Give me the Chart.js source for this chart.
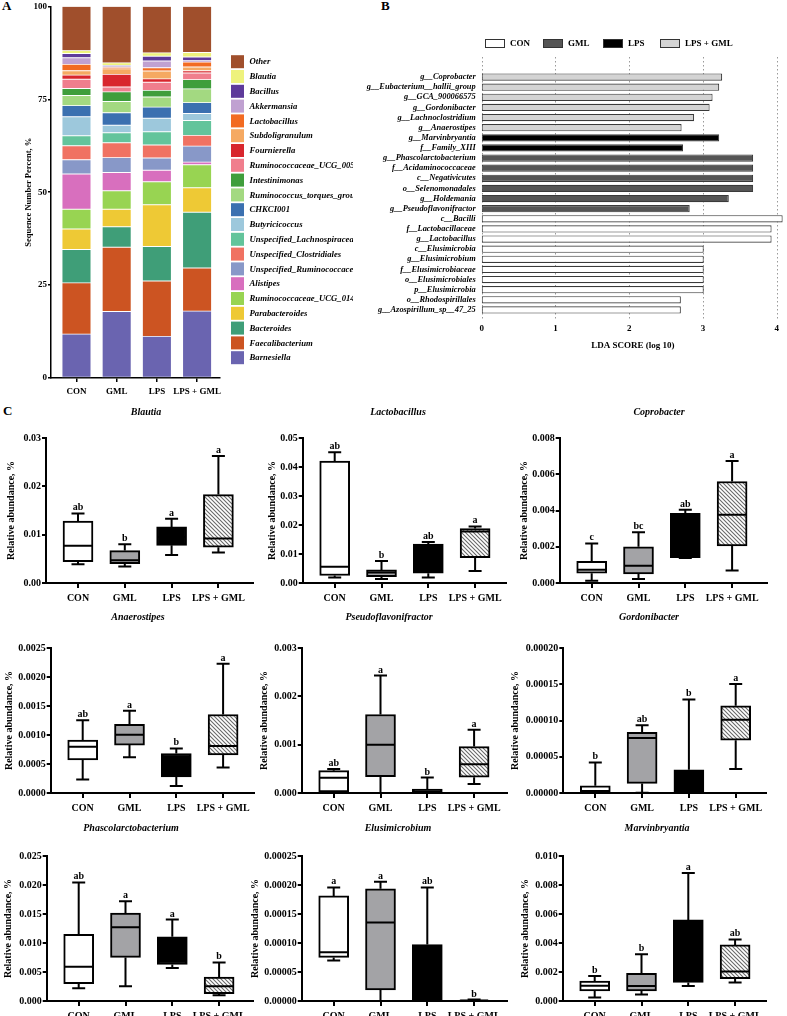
<!DOCTYPE html>
<html><head><meta charset="utf-8">
<script src="https://cdn.jsdelivr.net/npm/chart.js@4.4.1/dist/chart.umd.min.js"></script>
<style>
html,body{margin:0;padding:0;overflow:hidden;background:#fff;width:787px;height:1016px;position:relative;}
.box{position:absolute;}
.lbl{position:absolute;font:bold 13px "Liberation Serif";color:#000;}
</style></head><body>
<div class="lbl" style="left:2px;top:-2px">A</div>
<div class="lbl" style="left:381px;top:-2px">B</div>
<div class="lbl" style="left:3px;top:403px">C</div>
<div class="box" id="wa" style="left:0;top:0;width:390px;height:400px"><canvas id="ca"></canvas></div>
<div class="box" id="wb" style="left:360px;top:0;width:427px;height:360px"><canvas id="cb"></canvas></div>
<div id="cwrap"></div>
<script>
// ---------- Panel A data ----------
const groups = ['CON', 'GML', 'LPS', 'LPS + GML'];
const genera = ['Barnesiella','Faecalibacterium','Bacteroides','Parabacteroides','Ruminococcaceae_UCG_014','Alistipes','Unspecified_Ruminococcaceae','Unspecified_Clostridiales','Unspecified_Lachnospiraceae','Butyricicoccus','CHKCI001','Ruminococcus_torques_group','Intestinimonas','Ruminococcaceae_UCG_005','Fournierella','Subdoligranulum','Lactobacillus','Akkermansia','Bacillus','Blautia','Other'];
const genusColors = ['#6a64b0','#cc5422','#3f9e78','#eec935','#98d452','#d86fbe','#8898c8','#f07262','#63c49b','#9dc8dc','#3b70b0','#a3d981','#3f9e3b','#f07e8d','#d8262d','#f5a962','#f26b22','#c0a1d1','#5e3a9a','#eef27d','#a04f2c'];
const conPercent    = [11.8,13.8,9.0,5.5,5.3,9.5,3.85,3.75,2.7,5.1,3.0,2.7,1.9,2.5,1.1,1.2,1.7,1.8,1.1,0.8,11.9];
const gmlPercent    = [17.9,17.3,5.5,4.7,5.0,4.9,4.0,4.0,2.7,2.0,3.4,3.0,2.6,1.3,3.4,1.5,0.4,0.2,0.3,0.7,15.2];
const lpsPercent    = [11.2,14.9,9.3,11.2,6.2,3.1,3.3,3.5,3.55,3.65,3.0,2.7,1.8,2.2,0.9,2.1,0.9,1.8,1.3,0.9,12.5];
const lpsGmlPercent = [18.0,11.6,15.0,6.6,6.2,0.7,4.3,2.9,4.0,1.9,2.9,3.7,2.5,1.8,0.6,1.0,1.3,0.4,1.0,1.2,12.4];
const percentTicks = [0, 25, 50, 75, 100];

// ---------- Panel B data ----------
const ldaTaxa = ['g__Coprobacter','g__Eubacterium__hallii_group','g__GCA_900066575','g__Gordonibacter','g__Lachnoclostridium','g__Anaerostipes','g__Marvinbryantia','f__Family_XIII','g__Phascolarctobacterium','f__Acidaminococcaceae','c__Negativicutes','o__Selenomonadales','g__Holdemania','g__Pseudoflavonifractor','c__Bacilli','f__Lactobacillaceae','g__Lactobacillus','c__Elusimicrobia','g__Elusimicrobium','f__Elusimicrobiaceae','o__Elusimicrobiales','p__Elusimicrobia','o__Rhodospirillales','g__Azospirillum_sp__47_25'];
const ldaScores = [3.26,3.22,3.13,3.09,2.88,2.71,3.22,2.73,3.68,3.68,3.68,3.68,3.35,2.82,4.08,3.93,3.93,3.01,3.01,3.01,3.01,3.01,2.70,2.70];
const ldaGroup  = [3,3,3,3,3,3,2,2,1,1,1,1,1,1,0,0,0,0,0,0,0,0,0,0];
const ldaTicks = [0, 1, 2, 3, 4];

// ---------- Panel C data: [min, Q1, median, Q3, max] per group ----------
const blautiaStats = [[0.0039,0.0044,0.0077,0.0128,0.0144],[0.0034,0.0040,0.0047,0.0067,0.0080],[0.0058,0.0078,0.0095,0.0116,0.0133],[0.0063,0.0074,0.0092,0.0183,0.0263]];
const blautiaLetters = ['ab','b','a','a'];
const blautiaTicks = [0,0.01,0.02,0.03];
const lactobacillusStats = [[0.0019,0.0026,0.0056,0.0420,0.0451],[0.0014,0.0022,0.0036,0.0045,0.0076],[0.0019,0.0034,0.0100,0.0134,0.0141],[0.0041,0.0087,0.0178,0.0188,0.0195]];
const lactobacillusLetters = ['ab','b','ab','a'];
const lactobacillusTicks = [0,0.01,0.02,0.03,0.04,0.05];
const coprobacterStats = [[0.00013,0.00054,0.00073,0.00119,0.00218],[0.00022,0.00050,0.00095,0.00200,0.00280],[0.00138,0.00140,0.00300,0.00385,0.00404],[0.00069,0.00205,0.00376,0.00560,0.00673]];
const coprobacterLetters = ['c','bc','ab','a'];
const coprobacterTicks = [0,0.002,0.004,0.006,0.008];
const anaerostipesStats = [[0.000233,0.000571,0.000797,0.000913,0.001255],[0.000617,0.000826,0.001006,0.001186,0.00142],[0.000122,0.000279,0.0005,0.000681,0.000768],[0.000438,0.000658,0.000809,0.001354,0.00223]];
const anaerostipesLetters = ['ab','a','b','a'];
const anaerostipesTicks = [0,0.0005,0.001,0.0015,0.002,0.0025];
const pseudoflavStats = [[0.00001,0.00002,0.000315,0.000462,0.000497],[0,0.000336,0.000997,0.001624,0.00243],[0,0.00001,0.00003,0.00008,0.00032],[0.000188,0.000328,0.000596,0.00096,0.00131]];
const pseudoflavLetters = ['ab','a','b','a'];
const pseudoflavTicks = [0,0.001,0.002,0.003];
const gordonibacterStats = [[0,0.000001,0.0000028,0.0000099,0.0000422],[0.0000005,0.0000132,0.0000757,0.0000836,0.0000933],[0,0,0.00001,0.0000321,0.000129],[0.000033,0.0000729,0.0001012,0.0001202,0.0001504]];
const gordonibacterLetters = ['b','ab','b','a'];
const gordonibacterTicks = [0,0.00005,0.0001,0.00015,0.0002];
const phascolarctoStats = [[0.00221,0.00297,0.00589,0.01148,0.02045],[0.00256,0.00752,0.0127,0.01515,0.01719],[0.00571,0.00629,0.009,0.01107,0.01404],[0.00099,0.00128,0.00256,0.00414,0.00664]];
const phascolarctoLetters = ['ab','a','a','b'];
const phascolarctoTicks = [0,0.005,0.01,0.015,0.02,0.025];
const elusimicrobiumStats = [[0.0000699,0.0000752,0.0000839,0.0001812,0.0001958],[0,0.0000192,0.0001352,0.0001935,0.0002057],[0,0,0.00003,0.0000973,0.0001958],[0,0.0000003,0.000001,0.0000015,0.0000025]];
const elusimicrobiumLetters = ['a','a','ab','b'];
const elusimicrobiumTicks = [0,0.00005,0.0001,0.00015,0.0002,0.00025];
const marvinbryantiaStats = [[0.000233,0.0007,0.001049,0.001375,0.001725],[0.000443,0.0007,0.001026,0.001911,0.003217],[0.001026,0.001282,0.0035,0.005594,0.008834],[0.001282,0.001538,0.002028,0.00387,0.004242]];
const marvinbryantiaLetters = ['b','b','a','ab'];
const marvinbryantiaTicks = [0,0.002,0.004,0.006,0.008,0.010];

const panels = [
  {title:'Blautia', stats:blautiaStats, letters:blautiaLetters, ticks:blautiaTicks, dec:2},
  {title:'Lactobacillus', stats:lactobacillusStats, letters:lactobacillusLetters, ticks:lactobacillusTicks, dec:2},
  {title:'Coprobacter', stats:coprobacterStats, letters:coprobacterLetters, ticks:coprobacterTicks, dec:3},
  {title:'Anaerostipes', stats:anaerostipesStats, letters:anaerostipesLetters, ticks:anaerostipesTicks, dec:4},
  {title:'Pseudoflavonifractor', stats:pseudoflavStats, letters:pseudoflavLetters, ticks:pseudoflavTicks, dec:3},
  {title:'Gordonibacter', stats:gordonibacterStats, letters:gordonibacterLetters, ticks:gordonibacterTicks, dec:5},
  {title:'Phascolarctobacterium', stats:phascolarctoStats, letters:phascolarctoLetters, ticks:phascolarctoTicks, dec:3},
  {title:'Elusimicrobium', stats:elusimicrobiumStats, letters:elusimicrobiumLetters, ticks:elusimicrobiumTicks, dec:5},
  {title:'Marvinbryantia', stats:marvinbryantiaStats, letters:marvinbryantiaLetters, ticks:marvinbryantiaTicks, dec:3}
];

// ---------- layout (pixel geometry only) ----------
const colBase = [0, 245, 500];
const rowTop = [400, 610, 818];
const rowTitleY = [12, 7, 10];
const axisX = [46, 302.7, 559.7, 50.7, 301.7, 563.3, 46.7, 301.7, 562.7];
const areaRight = [254, 507, 768, 255, 508, 767, 254, 508, 767];
const yTitleX = [11.5, 272, 524.5, 9, 264, 515, 8.5, 255, 525];
const titleX = [146, 398, 659, 138, 389, 649, 131, 398, 657];
const B_LEFT = 360;

Chart.defaults.font.family = '"Liberation Serif", "Times New Roman", serif';
Chart.defaults.color = '#000';
Chart.defaults.animation = false;

const F = (size, style) => ({family:'"Liberation Serif", serif', size:size, weight:'bold', style:style||'normal'});

// ---------- Panel A ----------
const legendA = {
  id:'legendA',
  afterDraw(chart){
    const ctx = chart.ctx;
    ctx.save();
    ctx.beginPath(); ctx.rect(0,0,353,400); ctx.clip();
    ctx.font = 'italic bold 8.7px "Liberation Serif"';
    ctx.textBaseline = 'middle'; ctx.textAlign = 'left';
    const ds = chart.data.datasets;
    for (let k = ds.length - 1, r = 0; k >= 0; k--, r++) {
      const yc = 61.7 + r * 14.8;
      ctx.fillStyle = ds[k].backgroundColor;
      ctx.fillRect(231, yc - 6.5, 13, 13);
      ctx.fillStyle = '#000';
      ctx.fillText(ds[k].label, 249.5, yc + 0.5);
    }
    ctx.restore();
  }
};
const groupPercents = [conPercent, gmlPercent, lpsPercent, lpsGmlPercent];
new Chart(document.getElementById('ca'), {
  type:'bar',
  data:{datasets: genera.map((g, k) => ({
    label:g,
    data: groupPercents.map((arr, i) => ({x:i, y:arr[k]})),
    backgroundColor: genusColors[k],
    borderColor:'rgba(255,255,255,0.35)', borderWidth:0.8, borderSkipped:false,
    barThickness:29
  }))},
  options:{
    responsive:true, maintainAspectRatio:false, animation:false,
    layout:{padding:{top:5, right:170, left:0, bottom:0}},
    plugins:{legend:{display:false}, tooltip:{enabled:false}},
    scales:{
      x:{type:'linear', stacked:true, offset:false, min:-0.634, max:3.57,
        afterBuildTicks:s=>{s.ticks = groups.map((g,i)=>({value:i}));},
        ticks:{callback:v=>groups[v], font:F(9), color:'#000', padding:4, autoSkip:false, maxRotation:0},
        grid:{offset:false, drawOnChartArea:false, tickLength:4, color:'#000', lineWidth:1.5},
        border:{color:'#000', width:1.5},
        afterFit:s=>{s.height = 22;}},
      y:{stacked:true, min:0, max:100,
        afterBuildTicks:s=>{s.ticks = percentTicks.map(v=>({value:v}));},
        ticks:{font:F(9), color:'#000', padding:1},
        grid:{drawOnChartArea:false, tickLength:3, color:'#000', lineWidth:1.5},
        border:{color:'#000', width:1.5},
        title:{display:true, text:'Sequence Number Percent, %', font:F(8.5), color:'#000', padding:{top:24, bottom:0}},
        afterFit:s=>{s.width = 51;}}
    }
  },
  plugins:[legendA]
});

// ---------- Panel B ----------
const ldaFill = ['#ffffff', '#555555', '#000000', '#d3d3d3'];
const legendBX = [485, 543, 603, 660];
const panelBExtras = {
  id:'panelBExtras',
  beforeDatasetsDraw(chart){
    const ctx = chart.ctx, xs = chart.scales.x;
    ctx.save();
    ctx.strokeStyle = '#9a9a9a'; ctx.lineWidth = 1; ctx.setLineDash([1.5, 2.5]);
    ldaTicks.forEach(v => {
      const px = Math.round(xs.getPixelForValue(v)) + 0.5;
      ctx.beginPath(); ctx.moveTo(px, 57); ctx.lineTo(px, 320); ctx.stroke();
    });
    ctx.restore();
  },
  afterDraw(chart){
    const ctx = chart.ctx;
    ctx.save();
    ctx.font = 'bold 9px "Liberation Serif"'; ctx.textBaseline = 'middle'; ctx.textAlign = 'left';
    chart.data.datasets.forEach((ds, k) => {
      const lx = legendBX[k] - B_LEFT;
      ctx.fillStyle = ds.backgroundColor;
      ctx.fillRect(lx, 39.5, 20, 8);
      ctx.strokeStyle = '#333'; ctx.lineWidth = 1;
      ctx.strokeRect(lx + 0.5, 39.5, 19, 8);
      ctx.fillStyle = '#000';
      ctx.fillText(ds.label, lx + 25, 44);
    });
    ctx.restore();
  }
};
new Chart(document.getElementById('cb'), {
  type:'bar',
  data:{labels: ldaTaxa, datasets: groups.map((g, k) => ({
    label:g,
    data: ldaScores.map((v, i) => ldaGroup[i] === k ? v : null),
    backgroundColor: ldaFill[k], borderColor:'#3a3a3a', borderWidth:1.1, borderSkipped:false,
    barPercentage:0.72, categoryPercentage:1
  }))},
  options:{
    indexAxis:'y', responsive:true, maintainAspectRatio:false, animation:false,
    layout:{padding:{top:72, right:0, left:0, bottom:0}},
    plugins:{legend:{display:false}, tooltip:{enabled:false}},
    scales:{
      x:{stacked:true, min:0, max:4.1,
        afterBuildTicks:s=>{s.ticks = ldaTicks.map(v=>({value:v}));},
        ticks:{font:F(9), color:'#000', padding:8},
        grid:{display:false, drawTicks:false}, border:{display:false},
        title:{display:true, text:'LDA SCORE (log 10)', font:F(9), color:'#000', padding:{top:0, bottom:9}},
        afterFit:s=>{s.height = 45;}},
      y:{stacked:true,
        ticks:{font:F(8.4,'italic'), color:'#000', padding:6, autoSkip:false},
        grid:{display:false, drawTicks:false}, border:{display:false},
        afterFit:s=>{s.width = 481.7 - B_LEFT;}}
    }
  },
  plugins:[panelBExtras]
});

// ---------- Panel C ----------
const boxExtras = {
  id:'boxExtras',
  afterDatasetsDraw(chart, args, o){
    const ctx = chart.ctx, ys = chart.scales.y;
    const meta = chart.getDatasetMeta(0);
    ctx.save();
    ctx.strokeStyle = '#000'; ctx.lineWidth = 2; ctx.fillStyle = '#000';
    ctx.font = 'bold 10px "Liberation Serif"'; ctx.textAlign = 'center'; ctx.textBaseline = 'alphabetic';
    meta.data.forEach((bar, i) => {
      const s = o.stats[i];
      const x = bar.x, hw = bar.width / 2 - 1;
      const p = s.map(v => ys.getPixelForValue(v));
      ctx.beginPath();
      ctx.moveTo(x, p[3]); ctx.lineTo(x, p[4]);
      ctx.moveTo(x - 6.5, p[4]); ctx.lineTo(x + 6.5, p[4]);
      ctx.moveTo(x, p[1]); ctx.lineTo(x, p[0]);
      ctx.moveTo(x - 6.5, p[0]); ctx.lineTo(x + 6.5, p[0]);
      ctx.moveTo(x - hw, p[2]); ctx.lineTo(x + hw, p[2]);
      ctx.stroke();
      ctx.fillText(o.letters[i], x, p[4] - 3);
    });
    ctx.font = 'italic bold 10px "Liberation Serif"'; ctx.textBaseline = 'middle';
    ctx.fillText(o.title, o.titleX, o.titleY);
    ctx.restore();
  }
};

const wrap = document.getElementById('cwrap');
panels.forEach((p, n) => {
  const col = n % 3, row = Math.floor(n / 3);
  const base = colBase[col], top = rowTop[row];
  const width = areaRight[n] - base;
  const div = document.createElement('div');
  div.className = 'box';
  div.style.left = base + 'px'; div.style.top = top + 'px';
  div.style.width = width + 'px'; div.style.height = '210px';
  const cv = document.createElement('canvas');
  div.appendChild(cv); wrap.appendChild(div);
  const cctx = cv.getContext('2d');
  const tile = document.createElement('canvas'); tile.width = 4; tile.height = 4;
  const t = tile.getContext('2d');
  t.fillStyle = '#fff'; t.fillRect(0,0,4,4);
  t.strokeStyle = '#6a6a6a'; t.lineWidth = 1.1;
  t.beginPath(); t.moveTo(-1,-1); t.lineTo(5,5); t.moveTo(-1,3); t.lineTo(1,5); t.moveTo(3,-1); t.lineTo(5,1); t.stroke();
  const hatch = cctx.createPattern(tile, 'repeat');
  const yW = axisX[n] - base;
  const xMin = -32 / 46.8, xMax = xMin + (areaRight[n] - axisX[n]) / 46.8;
  new Chart(cv, {
    type:'bar',
    data:{datasets:[{
      data: p.stats.map((s, i) => ({x:i, y:[s[1], s[3]]})),
      backgroundColor:['#ffffff', '#a3a3a6', '#000000', hatch],
      borderColor:'#000', borderWidth:2, borderSkipped:false, barThickness:30
    }]},
    options:{
      responsive:true, maintainAspectRatio:false, animation:false,
      layout:{padding:{top:38, right:0, left:0, bottom:0}},
      plugins:{legend:{display:false}, tooltip:{enabled:false},
        boxExtras:{stats:p.stats, letters:p.letters, title:p.title, titleX:titleX[n] - base, titleY:rowTitleY[row]}},
      scales:{
        x:{type:'linear', offset:false, min:xMin, max:xMax,
          afterBuildTicks:s=>{s.ticks = groups.map((g,i)=>({value:i}));},
          ticks:{callback:v=>groups[v], font:F(10), color:'#000', padding:4, autoSkip:false, maxRotation:0},
          grid:{offset:false, drawOnChartArea:false, tickLength:5, color:'#000', lineWidth:2},
          border:{color:'#000', width:2},
          afterFit:s=>{s.height = 27;}},
        y:{min:0, max:p.ticks[p.ticks.length - 1],
          afterBuildTicks:s=>{s.ticks = p.ticks.map(v=>({value:v}));},
          ticks:{callback:v=>Number(v).toFixed(p.dec), font:F(10), color:'#000', padding:1},
          grid:{drawOnChartArea:false, tickLength:4, color:'#000', lineWidth:2},
          border:{color:'#000', width:2},
          title:{display:true, text:'Relative abundance, %', font:F(10), color:'#000', padding:{top:Math.max(0, yTitleX[n] - base - 6), bottom:0}},
          afterFit:s=>{s.width = yW;}}
      }
    },
    plugins:[boxExtras]
  });
});
</script>
</body></html>
